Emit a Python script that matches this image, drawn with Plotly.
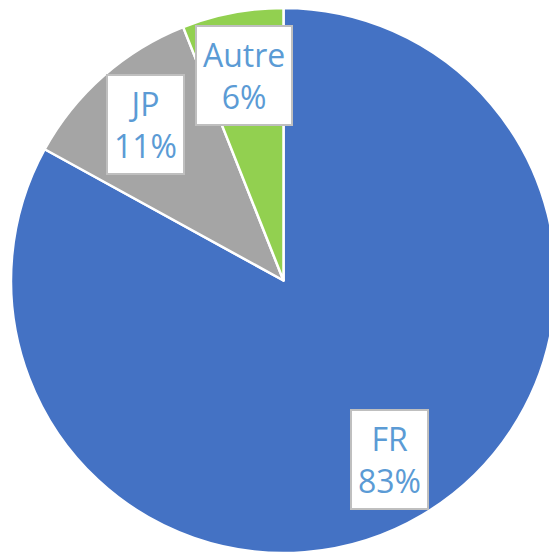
import math
import plotly.graph_objects as go

labels = ["FR", "JP", "Autre"]
values = [83, 11, 6]
colors = ["#4472C4", "#A5A5A5", "#92D050"]

W, H = 549, 545
ML, MR, MT, MB = 3, 1, 0, 0

fig = go.Figure(go.Pie(
    labels=labels, values=values, sort=False, direction="clockwise", rotation=0,
    marker=dict(colors=colors, line=dict(color="white", width=2.5)),
    textinfo="none", hoverinfo="label+percent", showlegend=False,
))

# label callouts placed along each slice's mid-angle
pw, ph = W - ML - MR, H - MT - MB
R = min(pw, ph) / 2
total = sum(values)
cum = 0
annotations = []
for lab, v in zip(labels, values):
    mid = (cum + v / 2) / total * 2 * math.pi
    cum += v
    r = 0.765 * R
    dx = r * math.sin(mid)
    dy = r * math.cos(mid)
    x = 0.5 + dx / pw
    y = 0.5 + dy / ph
    annotations.append(dict(
        x=x, y=y, xref="paper", yref="paper", showarrow=False,
        xanchor="center", yanchor="middle",
        text=f"{lab}<br>{round(v / total * 100)}%",
        font=dict(family="Open Sans", size=32, color="#5B9BD5"),
        bgcolor="white", bordercolor="#BFBFBF", borderwidth=2, borderpad=6,
        align="center",
    ))

fig.update_layout(
    width=W, height=H, margin=dict(l=ML, r=MR, t=MT, b=MB),
    paper_bgcolor="white", plot_bgcolor="white",
    annotations=annotations,
)
fig.write_html("out.html")
